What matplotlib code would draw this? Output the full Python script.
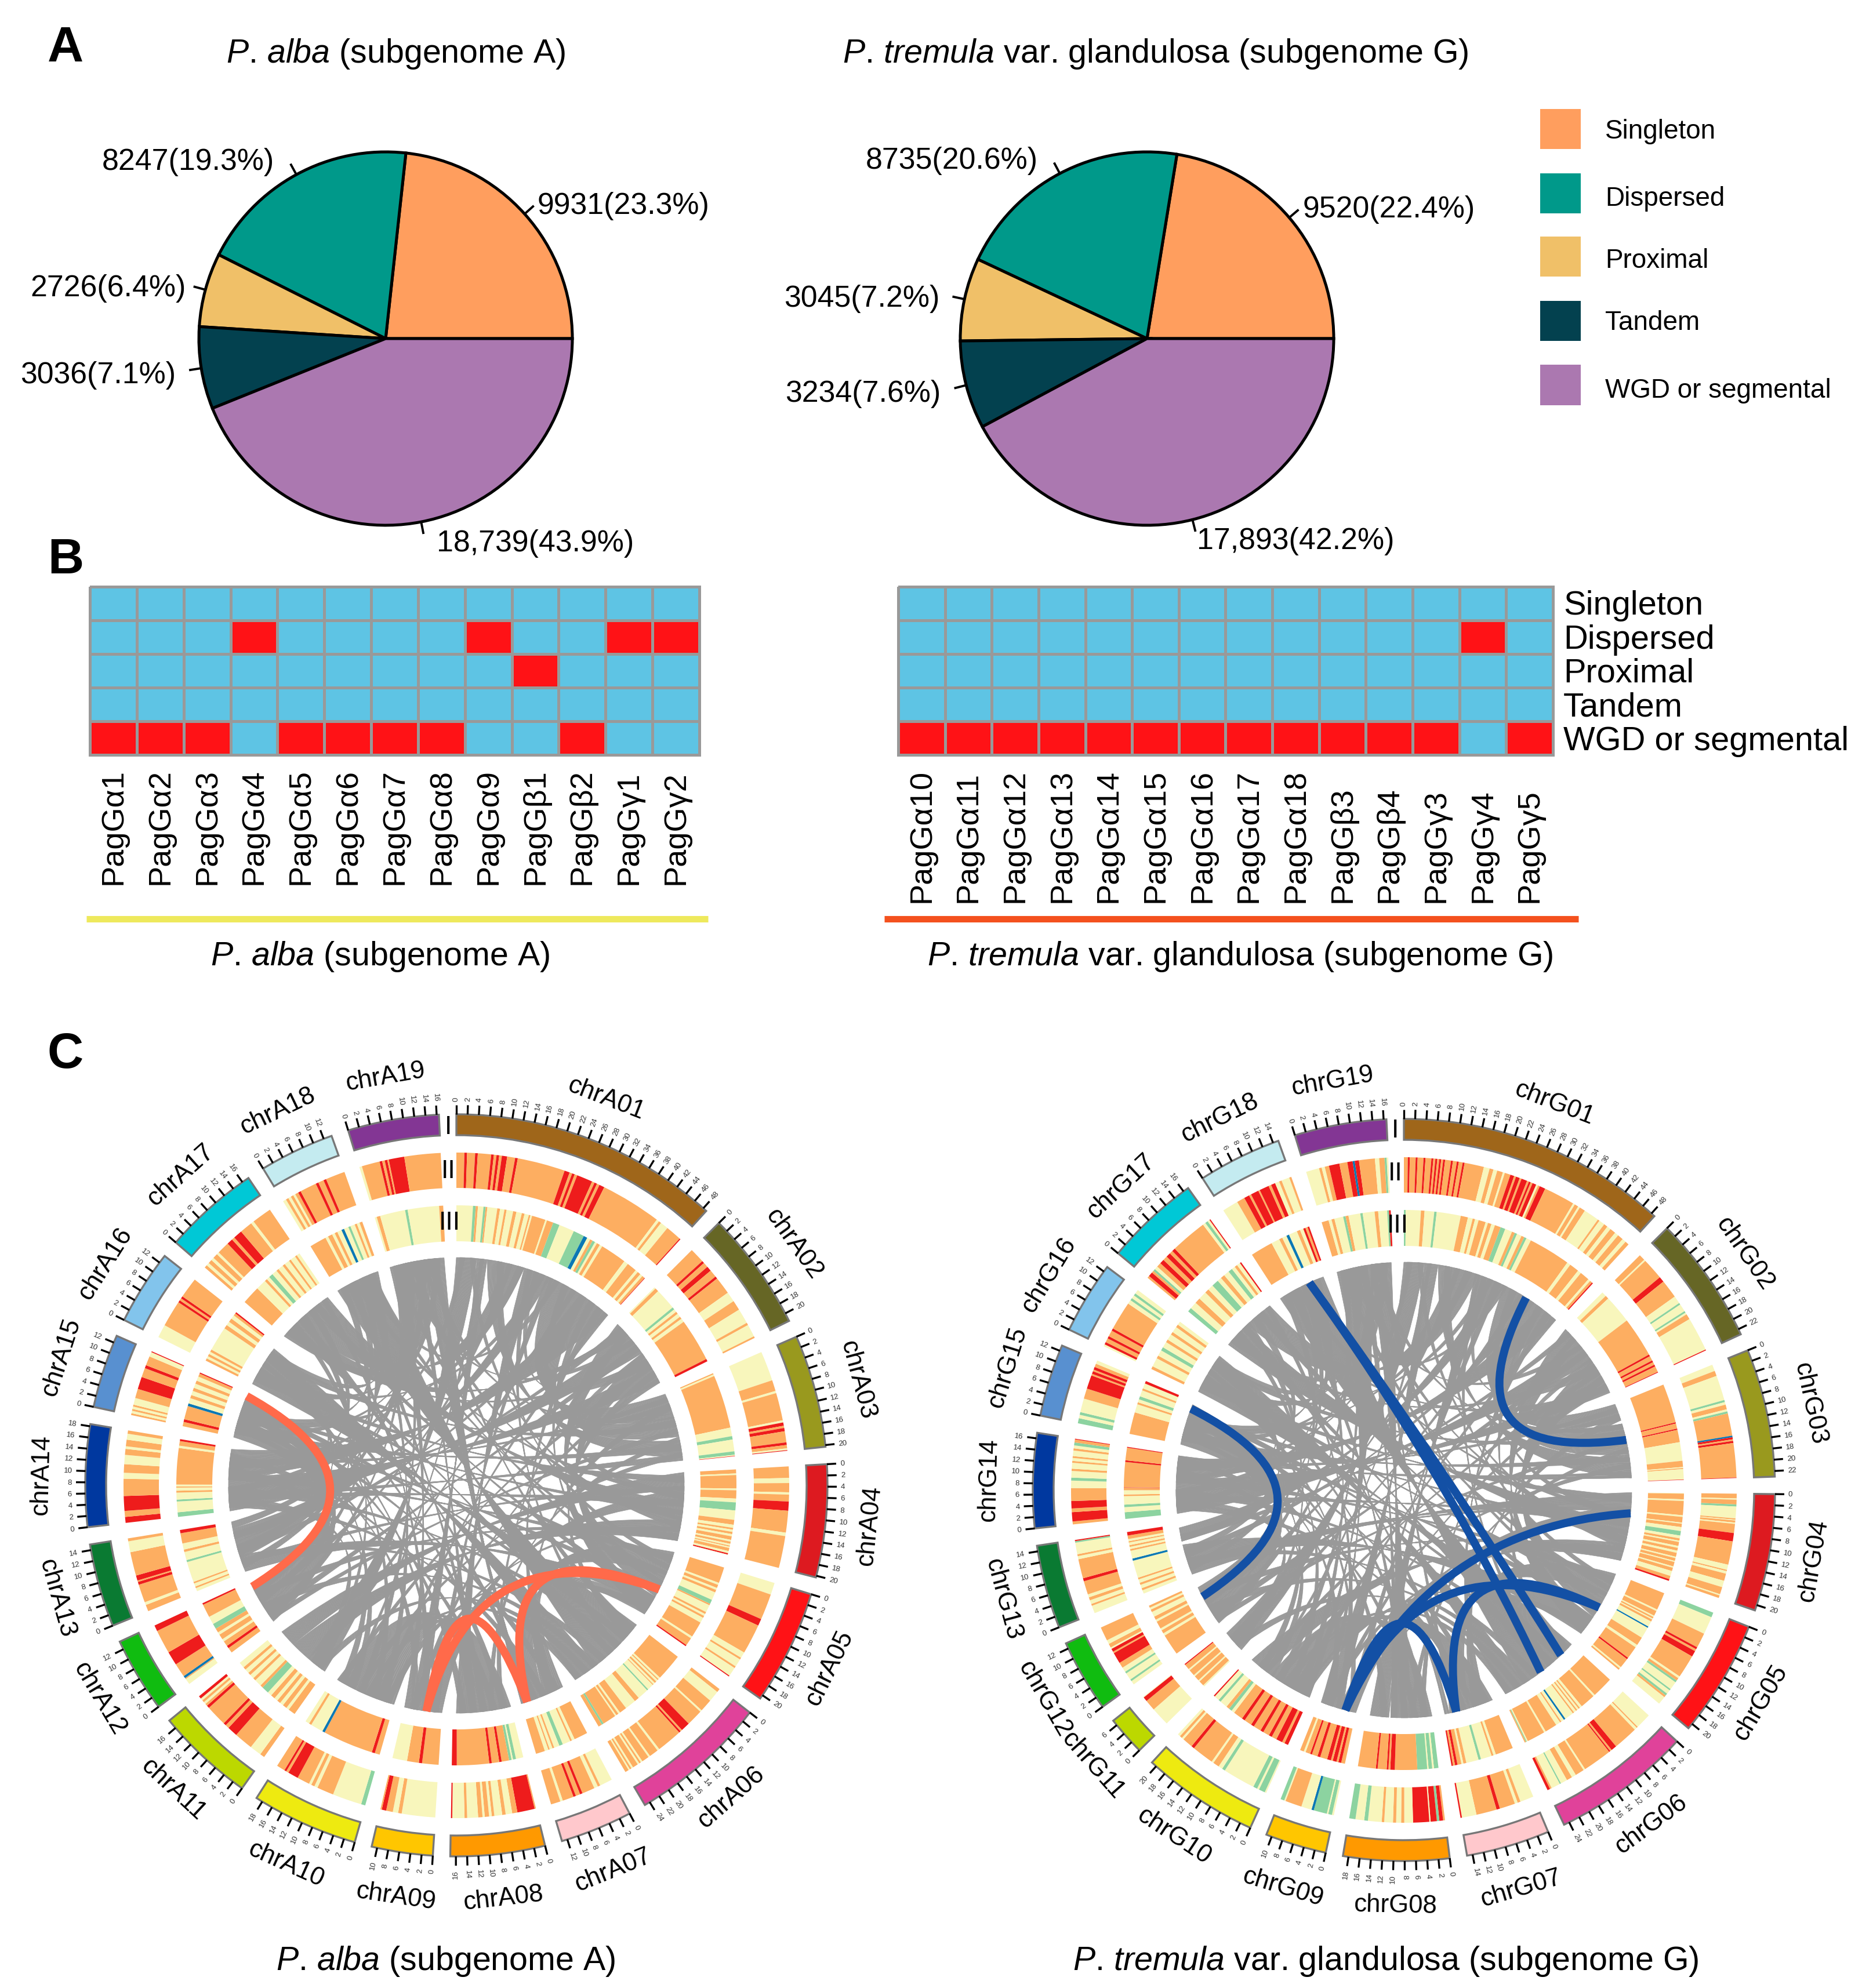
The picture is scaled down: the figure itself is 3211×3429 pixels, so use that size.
import re
import numpy as np
import matplotlib
matplotlib.use("Agg")
from matplotlib import pyplot as plt
from matplotlib.colors import ListedColormap
from matplotlib.patches import Wedge, Rectangle, PathPatch
from matplotlib.path import Path

plt.rcParams['font.family'] = ['Liberation Sans', 'DejaVu Sans']
plt.rcParams['mathtext.fontset'] = 'custom'
plt.rcParams['mathtext.rm'] = 'Liberation Sans'
plt.rcParams['mathtext.it'] = 'Liberation Sans:italic'

W, H = 3212, 3430

# panel A
CLASSES = ["Singleton", "Dispersed", "Proximal", "Tandem", "WGD or segmental"]
CLASS_COLORS = ["#FF9E5E", "#00998A", "#F0C068", "#03414F", "#AB78B0"]
PIE_A = [9931, 8247, 2726, 3036, 18739]
PIE_G = [9520, 8735, 3045, 3234, 17893]
PIE_LABELS_A = ["9931(23.3%)", "8247(19.3%)", "2726(6.4%)", "3036(7.1%)", "18,739(43.9%)"]
PIE_LABELS_G = ["9520(22.4%)", "8735(20.6%)", "3045(7.2%)", "3234(7.6%)", "17,893(42.2%)"]

# panel B, 1 = class of the gene
GENES_A = ["PagGα1", "PagGα2", "PagGα3", "PagGα4", "PagGα5", "PagGα6", "PagGα7", "PagGα8", "PagGα9",
           "PagGβ1", "PagGβ2", "PagGγ1", "PagGγ2"]
HEAT_A = [[0, 0, 0, 0, 0, 0, 0, 0, 0, 0, 0, 0, 0],
          [0, 0, 0, 1, 0, 0, 0, 0, 1, 0, 0, 1, 1],
          [0, 0, 0, 0, 0, 0, 0, 0, 0, 1, 0, 0, 0],
          [0, 0, 0, 0, 0, 0, 0, 0, 0, 0, 0, 0, 0],
          [1, 1, 1, 0, 1, 1, 1, 1, 0, 0, 1, 0, 0]]
GENES_G = ["PagGα10", "PagGα11", "PagGα12", "PagGα13", "PagGα14", "PagGα15", "PagGα16", "PagGα17", "PagGα18",
           "PagGβ3", "PagGβ4", "PagGγ3", "PagGγ4", "PagGγ5"]
HEAT_G = [[0, 0, 0, 0, 0, 0, 0, 0, 0, 0, 0, 0, 0, 0],
          [0, 0, 0, 0, 0, 0, 0, 0, 0, 0, 0, 0, 1, 0],
          [0, 0, 0, 0, 0, 0, 0, 0, 0, 0, 0, 0, 0, 0],
          [0, 0, 0, 0, 0, 0, 0, 0, 0, 0, 0, 0, 0, 0],
          [1, 1, 1, 1, 1, 1, 1, 1, 1, 1, 1, 1, 0, 1]]

# panel C, chromosome lengths in Mb
LEN_A = [48.7, 21.5, 20.3, 20.3, 20.7, 25, 13, 17, 11, 19.2, 17.7, 13.5, 15, 18.4, 13.3, 13.5, 17.3, 13.5, 16.4]
LEN_G = [48.7, 23, 23, 21, 21, 25, 15, 19, 11, 21, 7, 13, 15, 17, 13, 13, 17, 15, 16.5]
CHR_COLORS = ["#9F661A", "#666625", "#99991E", "#DD1A20", "#FF1216", "#E0429A", "#FFC8CC", "#FF9900", "#FFC600",
              "#EEEA10", "#BCD800", "#10BC10", "#0A7A32", "#00389F", "#5890D0", "#82C4EC", "#00C8D6", "#C4EBF0",
              "#833694"]
BAND_COLORS = {"y": "#F8F6BC", "o": "#FDAE61", "r": "#EE1C1C", "g": "#8CD3A0", "b": "#0A78B4"}

# heat tracks, letter + relative length along the chromosome
TRACK2_A = [
    "o3r1o3r1o5r1o1r1o1r2o3r1o18r2o1r1o1r6o1r1o1r2o23y1o1y3o6r0.4",
    "o6r1o2r2o3r1o7y4o4y6o1y5o0.7",
    "y135o50y10o125y10r15o10r15o50r12o15y8r3",
    "o50y22o40y10o30r40o95y15o140",
    "y60o130r35o150y30o10y40o10y45r5",
    "o20y60o70y10o90r50o10r10o140y12o50y10o40y10o10y10o30y10o10y8o20",
    "y40o8y12o40r8o14r8o35y8o30",
    "o3r40o12y15o8y18o6y6o10y5o10y25o6y28r3",
    "y75o8y12o15r10o3",
    "g10y70o40y8o8y6o30r25o6r5o20",
    "o10y25o40r22o8r6o45r6o5y5o5y5r6",
    "y15o3b6o35r35o60r15",
    "o18y8o50r8o4r14o65y30o8",
    "r18o18r45o52y18o26y28o18y8o20y18o10",
    "o6y8o6y8o6y22o30r40o30r10o30y15r3",
    "y45o90r8o8r8o70",
    "o6y6o8y6o10y5o25r12o6r18o26y6o40",
    "y6o5y5o5y4o6r5o30r5o10r5o35",
    "y5o35r5o5r5o3r30o70"]
TRACK3_A = [
    "y30g5o4y10g4o3y18o5y8o4y12o6y10o5y8o3y3o25y3o12g12y28g20b7y6o5g5y4o6y5o48y8o18y5o6y5o5r1",
    "y5o12y70g8y10o8y12o8y12o140r8",
    "o6y8o250y40g16y55g16y5r2",
    "o18y7o60y8o37y17g36y42o22y14o8y10o10y10o16y8o10y8o5y6o14y10r6y1",
    "o60y8o12y8o10y30g16o6y28o8y8o8y20o60y8o30r5",
    "o110y8o5y8o8y8o4y25g6y45o20y45o30y8o10y6o55g8o15",
    "o38y8o5y22g10y15o5y8o4y10o25",
    "y15g6y3g5o15r5o15r5o65r10",
    "o36r7o26y32",
    "o10r6o100b5y25o5y8",
    "o10y4o6y5o5y5o6y6g10o4y10o4y6o4y6o4y8",
    "o10r5o10y5o10y5o8g10y15o25r3",
    "y8o4y8o4y50g5y20o6y15o25r8",
    "g12y28g5y18o5y8o3y5o95y6o12r5",
    "o8r5o25b5y10o6y8o6y8o6y8o6r2",
    "o5y5o5y5o5y50o8y8o8y8o5r3",
    "o35y20o5y6g8y10o5y10o5y10o4y10o4y6",
    "o30y5o8y5o5y8b5y8g4y8o4y5o5",
    "y4o7y50g5y62o8"]
TRACK2_G = [
    "o2r1o3r1o3r1o3r1o1r1o1r1o1r1o3r1o2r1o2r1o10y3o2y2o3y1o3r2o1r2o1r3o1r1o1r2y1o1r3o16y1o2y1o3y8o1y3o2y2o3y2o3y2o2",
    "o20y5o70r18o60y25g6y25g6y6o18y110r3",
    "y25o20y95g8y10o18y8g8o85b6r8o6r8o130r2",
    "o18y5o18g8y45o5y3o8y5o35r32o90y20o5y10o28y25o28y5o10",
    "g18y65o55r8o8r22o85y8o10g8y30g6y15g8o8y30",
    "y70o6y12o110r25o8r6o130y8o40y20o25y30g6y40o8r12",
    "y28o6y6o32r7o42y30r3",
    "o3r6g4r10y2r26y14o5y8o5y14o4y22g6y14g10",
    "y4g8y3g28b5y22o35y3g8",
    "y3g12y4g8y62g6y8o12y4o42r6o20y4o5y5",
    "y55o32r13y2",
    "y10g5y18g5y12o14r28o4r8y4o10y10o35",
    "y20o5y10o8y8o35r8o50y8o5y30g4r3",
    "o8r25o10r20o35y20g8y18o6y16o5y8o5y15o6y8g8o8r2",
    "g15y10g8y40o30r40o5r8o5r8o10y10",
    "y5r6o10r6o15r6o70y10g6y8g6y10",
    "o4r8o4g4y6o8r8o8r8o6r6o65y5g5y4r2",
    "y30o15r10o4r15o3r18o5r8y8o5y15o4",
    "y25o5y6o8r20o15r10b4r8o30y8o10g4y3"]
TRACK3_G = [
    "g3y25o6y16g4y40o12y8o4y6o12y4o6y6o10g8y12o5g4y8o5g4y8o70y6o16y6o16y4o4r2",
    "y20o15y120o170r8o20r8o12r8o25r3",
    "o190r6o25r6o60y90o30y5o5y50r2",
    "y2o20y6o50y6o20y4o12y14g16y10o8y5o14y7o10y8o14y5o10y4o16y5o12y18o12r6",
    "o62y6o18y5o6y4o8y20b5y40o30y10o45r6o35y6o6",
    "o70y6o50y8o5y6o5y8o5y30b6y10o5y15o40y6o60y4g3o4",
    "o36y5o4y22g5y25o6y4o8r5o4r3",
    "g10y4g8y3g22o50r10o4r4o20r4o40",
    "o8r6o4r8o4r8o15r6o12r4o10y4o8",
    "r6o4r10o8r5o10r5o12r5o12r5o15y5g5o5y12g4y8r2",
    "y3o10y3o10y3o12y3o10r2",
    "o50y6o8y5o18y5o8y12o6y5o5",
    "y8o5y8o5y8o4y40b5y18o4y5o4y6o3y5o8r8",
    "g16y12g6y20o4y10o6r1o60r4o30r2",
    "o42y16o4y6g6y12o4y10r5",
    "o5y15o5y10g6y10o5y10o5y10o5y6",
    "g6y10o8y12o6y8g10y6o6y8g6y5o4y5r2",
    "o40y15o6y8b5y15o6y6r4o4r3",
    "o12y5o5y15g4o5y20g4y20o6y15g3r3"]

# grey syntenic links: chr, start, end, chr, start, end (Mb)
LINKS_A = [
    (1, 0, 6, 11, 0, 6), (1, 6, 9, 9, 5, 9), (1, 9, 14, 3, 14, 19), (1, 14, 20, 17, 5, 11), (1, 20, 24, 8, 12, 16),
    (1, 24, 28, 13, 9, 13), (1, 28, 34, 3, 0, 6), (1, 34, 40, 3, 7, 13), (1, 40, 48, 14, 10, 18), (2, 0, 5, 5, 15, 20),
    (2, 5, 11, 14, 0, 6), (2, 11, 16, 5, 8, 14), (2, 16, 21, 14, 6, 10), (4, 0, 5, 11, 12, 17), (4, 5, 9, 9, 0, 4),
    (4, 9, 14, 17, 11, 17), (4, 14, 20, 11, 6, 12), (5, 0, 7, 7, 6, 12), (5, 14, 17, 13, 0, 4), (5, 17, 20, 7, 0, 5),
    (6, 0, 6, 16, 0, 5), (6, 6, 12, 18, 0, 6), (6, 12, 17, 18, 6, 12), (6, 17, 24, 16, 6, 12), (8, 0, 5, 10, 12, 18),
    (8, 5, 9, 10, 6, 12), (8, 9, 12, 10, 0, 6), (9, 9, 11, 19, 0, 3), (12, 0, 5, 15, 7, 12), (12, 5, 12, 15, 0, 6),
    (13, 4, 9, 19, 3, 8), (13, 13, 15, 19, 8, 11), (19, 11, 16, 7, 11, 13), (17, 0, 5, 2, 2, 4), (14, 3, 5, 3, 18, 20)]
LINKS_G = [
    (1, 0, 6, 11, 0, 6.5), (1, 6, 10, 9, 5, 10), (1, 10, 14, 3, 16, 22), (1, 14, 22, 17, 8, 15), (1, 22, 26, 8, 13, 18),
    (1, 26, 30, 13, 10, 14), (1, 30, 35, 3, 0, 5), (1, 35, 42, 3, 6, 15), (1, 42, 48, 14, 10, 16), (2, 0, 6, 5, 15, 20),
    (2, 6, 12, 14, 0, 6), (2, 12, 18, 5, 8, 14), (2, 18, 22.5, 14, 6, 10), (4, 0, 4, 13, 0, 4), (4, 4, 9, 9, 0, 5),
    (4, 9, 15, 17, 0, 7), (4, 15, 20, 10, 14, 20), (5, 0, 7, 7, 7, 13), (5, 14, 20, 13, 4, 9), (6, 0, 6, 16, 0, 5),
    (6, 6, 13, 18, 0, 7), (6, 13, 18, 18, 7, 14), (6, 18, 24, 16, 6, 12), (7, 0, 6, 10, 2, 7), (8, 0, 6, 10, 7, 13),
    (8, 6, 12, 19, 10, 16), (8, 12.5, 13, 7, 13, 14.5), (12, 0, 5, 15, 7, 12), (12, 5, 12, 15, 0, 6), (19, 0, 3, 9, 9, 10.5),
    (19, 3, 9, 10, 0, 2), (17, 15, 16.5, 2, 20, 22), (14, 16, 16.8, 3, 20, 22)]
# narrower links that cross the middle, in both circles
LINKS_CROSS = [
    (1, 1, 2.5, 14, 12, 13.5), (1, 4, 5.5, 4, 15, 16.5), (1, 7, 8, 10, 14, 15), (1, 12, 13.5, 5, 2, 3.5),
    (1, 15, 16.5, 12, 7, 8.5), (1, 18, 20, 15, 4, 6), (1, 21, 22.5, 6, 8, 9.5), (1, 23, 24.5, 2, 14, 15.5),
    (1, 25, 26.5, 16, 2, 3.5), (1, 27, 29, 9, 1, 3), (1, 29.5, 31, 18, 8, 9.5), (1, 32, 34, 4, 6, 8),
    (1, 35, 36.5, 11, 3, 4.5), (1, 38, 40, 13, 5, 7), (1, 41, 43, 5, 16, 18), (1, 44, 46, 7, 2, 4),
    (1, 46.5, 48, 10, 4, 5.5), (2, 1, 2.5, 13, 10, 11.5), (2, 3, 4.5, 8, 2, 3.5), (2, 6, 7.5, 19, 4, 5.5),
    (2, 8, 10, 12, 2, 4), (2, 11, 12.5, 3, 3, 4.5), (2, 13, 14.5, 17, 1, 2.5), (2, 15, 16.5, 10, 16, 17.5),
    (2, 17, 19, 6, 3, 5), (2, 19.5, 21, 9, 7, 8.5), (3, 1, 2.5, 14, 14, 15.5), (3, 3, 5, 7, 4, 6),
    (3, 6, 7.5, 19, 11, 12.5), (3, 8, 10, 16, 8, 10), (3, 10.5, 12, 12, 0.5, 2), (3, 13, 14.5, 8, 5, 6.5),
    (3, 15, 17, 15, 1, 3), (3, 17.5, 19, 10, 10, 11.5), (4, 1, 3, 16, 1, 3), (4, 4, 5.5, 13, 2, 3.5),
    (4, 6, 7.5, 18, 5, 6.5), (4, 8, 10, 14, 3, 5), (4, 11, 12.5, 15, 8, 9.5), (4, 13, 15, 19, 6, 8),
    (4, 16, 17.5, 9, 8, 9.5), (4, 18, 20, 12, 8, 10), (5, 1, 3, 14, 9, 11), (5, 4, 5.5, 18, 10, 11.5),
    (5, 6, 8, 16, 3, 5), (5, 9, 10.5, 19, 1, 2.5), (5, 11, 13, 15, 3, 5), (5, 14, 16, 17, 12, 14),
    (5, 17, 19, 10, 1, 3), (6, 1, 3, 19, 12, 14), (6, 4, 6, 15, 9, 11), (6, 7, 9, 14, 5, 7),
    (6, 10, 12, 17, 3, 5), (6, 13, 15, 13, 3, 5), (6, 16, 18, 12, 4, 6), (6, 19, 21, 11, 1, 3),
    (6, 22, 24, 10, 7, 9), (7, 1, 3, 15, 6, 8), (7, 5, 7, 14, 1, 3), (7, 8, 10, 17, 6, 8),
    (7, 11, 12.5, 19, 10, 11.5), (8, 1, 3, 16, 9, 11), (8, 4, 6, 14, 15, 16.8), (8, 7, 9, 18, 3, 5),
    (8, 10, 12, 19, 7, 9), (8, 13, 15, 15, 10, 12), (9, 1, 2.5, 16, 4, 5.5), (9, 4, 6, 17, 15, 16.4),
    (9, 7, 9, 15, 2, 3.5), (10, 2, 4, 18, 8, 10), (10, 5, 7, 16, 6, 7.5), (10, 9, 11, 19, 3, 5),
    (10, 12, 14, 14, 11, 13), (10, 15, 17, 15, 7, 9), (11, 1, 2.5, 17, 4, 5.5), (11, 3, 5, 14, 2, 4),
    (12, 1, 3, 19, 1, 3), (12, 6, 8, 18, 1, 3), (12, 9, 11, 17, 7, 9), (13, 1, 3, 18, 7, 9),
    (13, 6, 8, 16, 8, 10), (13, 10, 12, 15, 3, 5), (14, 1, 3, 18, 11, 13), (14, 5, 7, 19, 9, 11),
    (14, 9, 11, 17, 10, 12), (14, 13, 15, 16, 5, 7), (15, 1, 3, 19, 13, 15), (15, 6, 8, 18, 4, 6),
    (16, 1, 3, 19, 5, 7), (16, 9, 11, 18, 10, 12), (17, 1, 3, 19, 10, 12)]
# highlighted gene pairs: chr, pos, chr, pos
PAIRS_A = [(15, 12.5, 12, 11.8), (9, 4.5, 5, 11.6), (9, 4.5, 7, 11.2), (7, 11.2, 5, 11.6)]
PAIRS_G = [(15, 10.7, 12, 9), (18, 9.6, 6, 4.4), (18, 9.6, 6, 12), (1, 37.2, 3, 10.8),
           (4, 6, 9, 3.1), (5, 10.8, 9, 3.1), (5, 10.8, 7, 11), (9, 3.1, 7, 11)]

fig = plt.figure(figsize=(W / 100, H / 100), dpi=100)


def add_axes_px(x, y, w, h):
    return fig.add_axes([x / W, 1 - (y + h) / H, w / W, h / H])


# overlay in picture pixels for the loose text
over = add_axes_px(0, 0, W, H)
over.set_xlim(0, W)
over.set_ylim(H, 0)
over.axis("off")
over.set_zorder(5)

for letter, y in zip("ABC", [84, 967, 1820]):
    over.text(82, y, letter, fontsize=62, fontweight="bold", ha="left", va="center")

TITLE_A = r"$\mathit{P}$. $\mathit{alba}$ (subgenome A)"
TITLE_G = r"$\mathit{P}$. $\mathit{tremula}$ var. glandulosa (subgenome G)"
for x, y, s in [(683, 93, TITLE_A), (1993, 93, TITLE_G), (656, 1650, TITLE_A), (2139, 1650, TITLE_G),
                (769, 3383, TITLE_A), (2390, 3383, TITLE_G)]:
    over.text(x, y, s, fontsize=41.3, ha="center", va="center")


def draw_pie(cx, values, labels, label_xy):
    r = 322
    ax = add_axes_px(cx - r * 1.1, 585 - r * 1.1, r * 2.2, r * 2.2)
    wedges, _ = ax.pie(values, colors=CLASS_COLORS, startangle=0, counterclock=True,
                       wedgeprops=dict(edgecolor="black", linewidth=3.6))
    ax.set_xlim(-1.1, 1.1)
    ax.set_ylim(-1.1, 1.1)
    for w in wedges:
        a = np.radians((w.theta1 + w.theta2) / 2)
        ax.plot([np.cos(a), 1.06 * np.cos(a)], [np.sin(a), 1.06 * np.sin(a)], color="black", lw=2.8, clip_on=False)
    for (x, y), s in zip(label_xy, labels):
        over.text(x, y, s, fontsize=37.4, ha="left", va="center")


draw_pie(665, PIE_A, PIE_LABELS_A, [(927, 355), (176, 279), (52, 498), (35, 647), (753, 937)])
draw_pie(1978, PIE_G, PIE_LABELS_G, [(2247, 361), (1493, 277), (1352, 516), (1354, 679), (2064, 934)])

# legend
legend_y = [(189, 258, 227), (300, 369, 343), (409, 478, 450), (520, 589, 557), (630, 700, 674)]
for (y0, y1, yt), name, col in zip(legend_y, CLASSES, CLASS_COLORS):
    over.add_patch(Rectangle((2656, y0), 70, y1 - y0, facecolor=col, edgecolor="none"))
    over.text(2768, yt, name, fontsize=33, ha="left", va="center")


def draw_heat(x, y, w, h, data, genes, label_bottom):
    ax = add_axes_px(x, y, w, h)
    cmap = ListedColormap(["#5EC4E4", "#FF1216"])
    mesh = ax.pcolormesh(np.array(data), cmap=cmap, vmin=0, vmax=1, edgecolors="#999999", linewidth=3.6)
    mesh.set_clip_on(False)
    ax.invert_yaxis()
    ax.axis("off")
    cw = w / len(genes)
    for i, g in enumerate(genes):
        over.text(x + cw * (i + 0.5), label_bottom, g, fontsize=39, rotation=90, ha="center", va="bottom")


draw_heat(155, 1013, 1051, 290, HEAT_A, GENES_A, 1526)
draw_heat(1549, 1013, 1129, 290, HEAT_G, GENES_G, 1557)
for i, name in enumerate(CLASSES):
    over.text(2696, 1016 + 292 * (i + 0.5) / 5, name, fontsize=41.7, ha="left", va="center")
over.plot([149, 1221], [1586, 1586], color="#EEE95C", lw=8, solid_capstyle="butt")
over.plot([1525, 2722], [1586, 1586], color="#F4511E", lw=8, solid_capstyle="butt")


def draw_circos(cx, cy, lengths, tag, track2, track3, links, pairs, pair_color, marks):
    ax = add_axes_px(0, 0, W, H)
    ax.set_xlim(-cx, W - cx)
    ax.set_ylim(cy - H, cy)
    ax.axis("off")
    ax.patch.set_alpha(0)
    gap = 2.7
    k = (360 - gap * len(lengths)) / sum(lengths)
    starts = []
    t = 0
    for ln in lengths:
        starts.append(t)
        t += ln * k + gap
    rc = 393

    def ang(c, p):
        return np.radians(starts[c - 1] + p * k)

    def xy(a, r):
        return r * np.sin(a), r * np.cos(a)

    def bend(p0, p1):
        c = np.array(xy(p0, 1)) + np.array(xy(p1, 1))
        return tuple(0.2 * rc * c / max(np.hypot(*c), 1e-6))

    def bend_grey(p0, p1):
        # far apart chromosomes run almost straight through the centre
        c = np.array(xy(p0, 1)) + np.array(xy(p1, 1))
        return tuple(0.11 * rc * c)

    # grey ribbons first, every row is drawn as a fan of fine strands
    for a, s1, e1, b, s2, e2 in links:
        n = max(1, int(round(abs(e1 - s1) * 3)))
        a_edges = np.linspace(s1, e1, n + 1)
        b_edges = np.linspace(s2, e2, n + 1)
        for i in range(n):
            a1 = ang(a, a_edges[i])
            a2 = ang(a, a_edges[i] + 0.85 * (a_edges[i + 1] - a_edges[i]))
            b1 = ang(b, b_edges[i])
            b2 = ang(b, b_edges[i] + 0.85 * (b_edges[i + 1] - b_edges[i]))
            verts = [xy(a1, rc), xy(a2, rc), bend_grey(a2, b1), xy(b1, rc), xy(b2, rc), bend_grey(b2, a1), xy(a1, rc)]
            codes = [Path.MOVETO, Path.LINETO, Path.CURVE3, Path.CURVE3, Path.LINETO, Path.CURVE3, Path.CURVE3]
            ax.add_patch(PathPatch(Path(verts, codes), facecolor="#999999", edgecolor="#999999", lw=0.5, zorder=1))

    for a, p, b, q in pairs:
        a1, b1 = ang(a, p), ang(b, q)
        path = Path([xy(a1, rc), bend(a1, b1), xy(b1, rc)], [Path.MOVETO, Path.CURVE3, Path.CURVE3])
        ax.add_patch(PathPatch(path, facecolor="none", edgecolor=pair_color, lw=10, capstyle="butt", zorder=2))

    for i, ln in enumerate(lengths):
        t0 = starts[i]
        t1 = t0 + ln * k
        # ideogram
        ax.add_patch(Wedge((0, 0), 640, 90 - t1, 90 - t0, width=36, facecolor=CHR_COLORS[i],
                           edgecolor="#777777", lw=2.4, zorder=3))
        # heat tracks
        for tr, r_out, r_in in [(track2, 574, 513), (track3, 483, 421)]:
            runs = re.findall(r"([a-z])([\d.]+)", tr[i])
            total = sum(float(n) for _, n in runs)
            pos = t0
            for c, n in runs:
                d = float(n) / total * (t1 - t0)
                ax.add_patch(Wedge((0, 0), r_out, 90 - pos - d, 90 - pos, width=r_out - r_in,
                                   facecolor=BAND_COLORS[c], edgecolor="none", lw=0, zorder=3))
                pos += d
        # ticks
        for p in np.arange(0, ln, 2):
            a = ang(i + 1, p)
            deg = np.degrees(a)
            ax.plot(*zip(xy(a, 640), xy(a, 656)), color="black", lw=2.4, solid_capstyle="butt", zorder=3)
            lx, ly = xy(a, 663)
            if deg < 180:
                ax.text(lx, ly, str(int(p)), fontsize=9.5, rotation=90 - deg, rotation_mode="anchor",
                        ha="left", va="center", color="#333333")
            else:
                ax.text(lx, ly, str(int(p)), fontsize=9.5, rotation=270 - deg, rotation_mode="anchor",
                        ha="right", va="center", color="#333333")
        # chromosome name
        mid = (t0 + t1) / 2
        rot = -mid if np.cos(np.radians(mid)) >= 0 else 180 - mid
        lx, ly = xy(np.radians(mid), 716)
        ax.text(lx, ly, "chr%s%02d" % (tag, i + 1), fontsize=31.5, rotation=rot, rotation_mode="anchor",
                ha="center", va="center")
    for (x, y), s in zip(marks, ["I", "II", "III"]):
        over.text(x, y, s, fontsize=32, ha="center", va="center")


draw_circos(787, 2563, LEN_A, "A", TRACK2_A, TRACK3_A, LINKS_A + LINKS_CROSS, PAIRS_A, "#FF6A4A",
            [(773, 1945), (773, 2021), (775, 2110)])
draw_circos(2421, 2571, LEN_G, "G", TRACK2_G, TRACK3_G, LINKS_G + LINKS_CROSS, PAIRS_G, "#1350A5",
            [(2406, 1951), (2406, 2025), (2410, 2115)])

fig.savefig("out.png", dpi=100, facecolor="white")
